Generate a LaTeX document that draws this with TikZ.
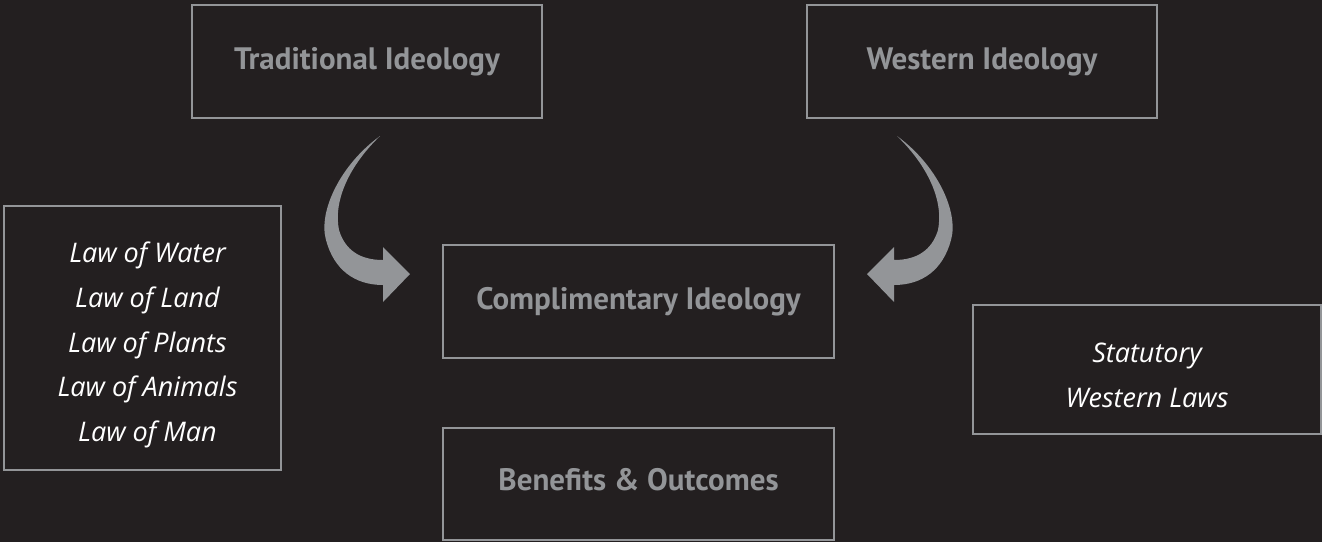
\documentclass[tikz,border=0pt]{standalone}
\usepackage{fontspec}
\setmainfont{PT Sans}
\newfontfamily\lawfont{Open Sans}
\definecolor{bg}{HTML}{231F20}
\definecolor{boxgray}{HTML}{939598}
\definecolor{labelgray}{HTML}{939598}
\begin{document}
\begin{tikzpicture}[x=1pt,y=-1pt,
  box/.style={draw=boxgray,line width=2.3pt,inner sep=0pt,rectangle,align=center},
  headbox/.style={box,text=labelgray,font=\fontsize{31}{36}\selectfont\bfseries},
  lawtext/.style={inner sep=0pt,align=center,text=white,font=\lawfont\fontsize{27}{44.8}\selectfont\itshape},
  bigarrow/.style={fill=boxgray,draw=none}]
\fill[bg] (0,0) rectangle (1322,542);
\useasboundingbox (0,0) rectangle (1322,542);

\node[headbox,minimum width=350pt,minimum height=113pt] (trad) at (367,61.5) {Traditional Ideology};
\node[headbox,minimum width=350pt,minimum height=113pt] (west) at (982,61.5) {Western Ideology};
\node[headbox,minimum width=391pt,minimum height=113pt] (comp) at (638.5,301.5) {Complimentary Ideology};
\node[headbox,minimum width=391pt,minimum height=112pt,text depth=10pt] (ben) at (638.5,484) {Benefits \& Outcomes};

\node[box,minimum width=277pt,minimum height=264pt] (law) at (142.5,338) {};
\node[lawtext] (lawtxt) at ([xshift=5pt,yshift=-7pt]law.center) {Law of Water\\Law of Land\\Law of Plants\\Law of Animals\\Law of Man};
\node[box,minimum width=348pt,minimum height=129pt] (stat) at (1147,369.5) {};
\node[lawtext] (stattxt) at ([yshift=-6pt]stat.center) {Statutory\\Western Laws};

% curved arrows
\fill[bigarrow] (380,136) .. controls (340,165) and (318,212) .. (326,240)
  .. controls (334,270) and (355,285) .. (383,285) -- (383,302) -- (410,274)
  -- (383,247) -- (383,260) .. controls (360,260) and (345,250) .. (339,230)
  .. controls (333,200) and (350,165) .. (380,136) -- cycle;
\fill[bigarrow] (897,136) .. controls (937,165) and (959,212) .. (951,240)
  .. controls (943,270) and (922,285) .. (894,285) -- (894,302) -- (867,274)
  -- (894,247) -- (894,260) .. controls (917,260) and (932,250) .. (938,230)
  .. controls (944,200) and (927,165) .. (897,136) -- cycle;
\end{tikzpicture}
\end{document}
